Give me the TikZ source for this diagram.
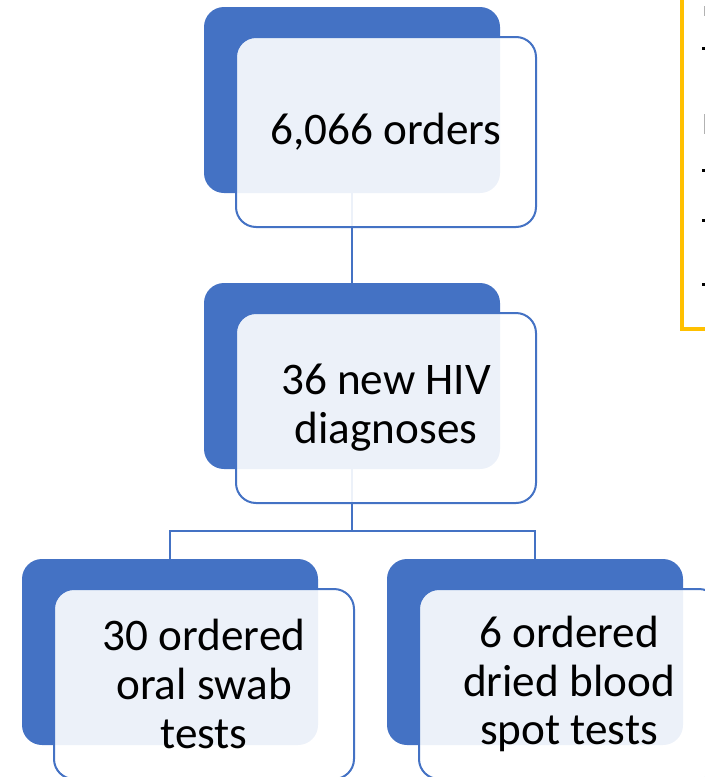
\documentclass[tikz,border=0pt]{standalone}
\usepackage{fontspec}
\setmainfont{Carlito}

\definecolor{accentblue}{HTML}{4472C4}
\definecolor{noteorange}{HTML}{FFC000}

\begin{document}
\begin{tikzpicture}[
    x=0.5pt, y=-0.5pt,
    back/.style={fill=accentblue, rounded corners=10pt, inner sep=0pt,
      minimum width=148pt, minimum height=93pt},
    front/.style={draw=accentblue, line width=1pt, fill=white, fill opacity=0.9,
      text opacity=1, rounded corners=10pt, inner sep=0pt, align=center,
      minimum width=150pt, minimum height=95pt,
      font=\fontsize{22.6}{24.4}\selectfont},
    link/.style={draw=accentblue, line width=1pt},
    note/.style={draw=noteorange, line width=2pt},
    bullet/.style={fill=black, minimum size=1.5pt, inner sep=0pt}
    ]
    \path[use as bounding box, clip] (0,0) rectangle (705,777);

    % back boxes
    \node[back] (orders) at (352,100) {};
    \node[back] (diag) at (352,376) {};
    \node[back] (oral) at (170,652) {};
    \node[back] (dbs) at (535,652) {};

    % connectors
    \coordinate (split) at (352,531);
    \draw[link] (orders.south) -- (diag.north);
    \draw[link] (diag.south) -- (split);
    \draw[link] (oral.north) |- (split) -| (dbs.north);

    % front boxes
    \node[front] (ordersT) at ([shift={(34,32)}]orders) {6,066 orders};
    \node[front] (diagT) at ([shift={(34,32)}]diag) {36 new HIV\\diagnoses};
    \node[front] (oralT) at ([shift={(34,32)}]oral) {30 ordered\\oral swab\\tests};
    \node[front] (dbsT) at ([shift={(34,32)}]dbs) {6 ordered\\dried blood\\spot tests};

    % note box, cut at the edge
    \draw[note] (682,-20) |- (760,329);
    \foreach \y in {48,170,220,284}
      \node[bullet] at (703.5,\y) {};
    \fill[gray!60] (703.5,6) rectangle (705,16);
    \fill[gray!60] (703.5,114) rectangle (705,134);
\end{tikzpicture}
\end{document}
